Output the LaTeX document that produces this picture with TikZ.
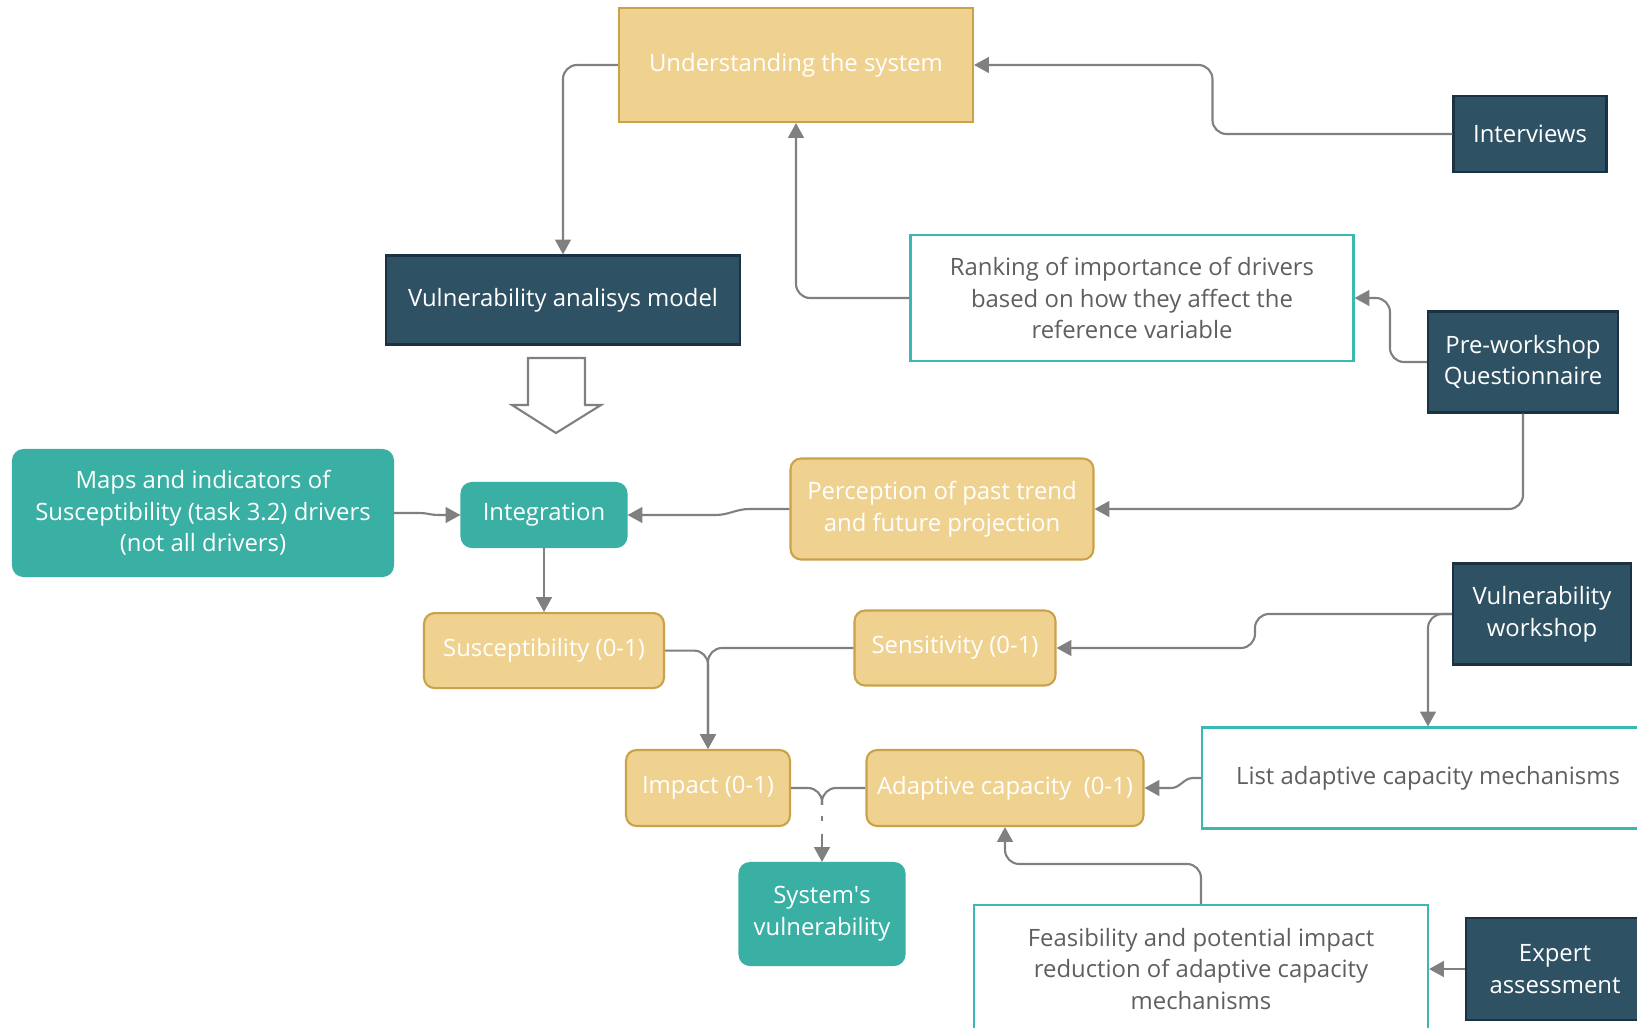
\documentclass[tikz,border=0pt]{standalone}
\usepackage{fontspec}
\setmainfont{Open Sans}
\usepackage{tikz}
\usetikzlibrary{arrows.meta,positioning,calc}
\usepackage{xcolor}
\definecolor{vwtan}{RGB}{240,210,144}
\definecolor{vwtandark}{RGB}{201,162,74}
\definecolor{vwnavy}{RGB}{47,81,100}
\definecolor{vwnavydark}{RGB}{26,50,66}
\definecolor{vwteal}{RGB}{58,175,164}
\definecolor{vwtealline}{RGB}{58,184,178}
\definecolor{vwgray}{RGB}{128,128,128}
\definecolor{vwtext}{RGB}{95,95,95}
\newcommand{\vwfont}{\fontsize{13.6}{18}\selectfont}
\tikzstyle{tanbox} = [rectangle, rounded corners=6pt, align=center, draw=vwtandark, fill=vwtan, text=white, line width=1.2pt, font=\vwfont]
\tikzstyle{navybox} = [rectangle, align=center, draw=vwnavydark, fill=vwnavy, text=white, line width=1.2pt, font=\vwfont]
\tikzstyle{tealbox} = [rectangle, rounded corners=6pt, align=center, draw=vwteal, fill=vwteal, text=white, line width=1.2pt, font=\vwfont]
\tikzstyle{outlinebox} = [rectangle, align=center, draw=vwtealline, fill=white, text=vwtext, line width=1.2pt, font=\vwfont]
\tikzstyle{link} = [line width=1.2pt, color=vwgray, rounded corners=8pt]
\tikzstyle{arrow} = [link, -{Triangle[length=8.5pt,width=9pt]}]
\tikzstyle{jog} = [line width=1.2pt, color=vwgray, -{Triangle[length=8.5pt,width=9pt]}]

\begin{document}
\begin{tikzpicture}[x=0.02cm, y=-0.02cm]
\useasboundingbox (0,0) rectangle (1637,1028);

% Top of the model
\node[tanbox, rounded corners=0pt, minimum width=7.08cm, minimum height=2.28cm] (under) at (796,65) {Understanding the system};
\node[navybox, minimum width=7.08cm, minimum height=1.78cm] (vam) at (563,300) {Vulnerability analisys model};
\node[navybox, minimum width=3.06cm, minimum height=1.52cm] (interv) at (1530,134) {Interviews};
\node[outlinebox, minimum width=8.86cm, minimum height=2.52cm] (rank) at (1132,298) {Ranking of importance of drivers\\based on how they affect the\\reference variable};
\node[navybox, minimum width=3.8cm, minimum height=2.02cm] (prews) at (1523,362) {Pre-workshop\\Questionnaire};

% Big hollow arrow
\draw[vwgray, line width=1.2pt, fill=white] (528,358) -- (585,358) -- (585,405) -- (601,405) -- (556,433) -- (512,405) -- (528,405) -- cycle;

% Integration level
\node[tealbox, minimum width=7.6cm, minimum height=2.52cm] (maps) at (203,513) {Maps and indicators of\\Susceptibility (task 3.2) drivers\\(not all drivers)};
\node[tealbox, minimum width=3.3cm, minimum height=1.28cm] (integ) at (544,515) {Integration};
\node[tanbox, minimum width=6.06cm, minimum height=2.02cm] (percep) at (942,509) {Perception of past trend\\and future projection};

% Indicators
\node[tanbox, below=1.28cm of integ, minimum width=4.8cm, minimum height=1.5cm] (suscep) {Susceptibility (0-1)};
\node[tanbox, minimum width=4.02cm, minimum height=1.5cm] (sensit) at (955,648) {Sensitivity (0-1)};
\node[navybox, minimum width=3.56cm, minimum height=2.02cm] (vws) at (1542,614) {Vulnerability\\workshop};
\node[tanbox, minimum width=3.28cm, minimum height=1.52cm] (impact) at (708,788) {Impact (0-1)};
\node[tanbox, minimum width=5.54cm, minimum height=1.52cm] (adapt) at (1005,788) {Adaptive capacity\ \ (0-1)};
\node[outlinebox, minimum width=9.04cm, minimum height=2.02cm] (list) at (1428,778) {List adaptive capacity mechanisms};

% Result
\node[tealbox, minimum width=3.3cm, minimum height=2.04cm] (sysvul) at (822,914) {System\textquotesingle s\\vulnerability};
\node[outlinebox, minimum width=9.08cm, minimum height=2.56cm] (feas) at (1201,969) {Feasibility and potential impact\\reduction of adaptive capacity\\mechanisms};
\node[navybox, minimum width=3.56cm, minimum height=2.04cm] (expert) at (1555,969) {Expert\\assessment};
\coordinate (merge) at ($(sysvul.north)+(0,-57)$);

% Connections at the top
\draw[arrow] (under.west) -| (vam.north);
\draw[arrow] (interv.west) -- ++(-240,0) |- (under.east);
\draw[arrow] (rank.west) -| (under.south);
\draw[arrow] (prews.west) -- ++(-37,0) |- (rank.east);
\draw[arrow] (prews.south) |- (percep.east);

% Connections to integration
\draw[jog] (percep.west) -- ++(-40,0) to[out=180,in=0] ++(-34,6) -- (integ.east);
\draw[jog] (maps.east) -- ++(26,0) to[out=0,in=180] ++(18,2) -- (integ.west);
\draw[arrow] (integ.south) -- (suscep.north);

% Indicators to impact
\draw[arrow] (suscep.east) -| (impact.north);
\draw[arrow] (sensit.west) -| (impact.north);
\draw[arrow] (vws.west) -- ++(-197,0) |- (sensit.east);
\draw[arrow] (vws.west) -| (list.north);
\draw[jog] (list.west) -- ++(-8,0) to[out=180,in=0] ++(-22,10) -- (adapt.east);

% Vulnerability
\draw[link] (impact.east) -| (merge);
\draw[link] (adapt.west) -| (merge);
\draw[arrow, dash pattern=on 0pt off 6.3pt on 2.8pt off 7.4pt on 40pt] (merge) -- (sysvul.north);
\draw[arrow] (feas.north) -- ++(0,-40) -| (adapt.south);
\draw[arrow] (expert.west) -- (feas.east);
\end{tikzpicture}
\end{document}
